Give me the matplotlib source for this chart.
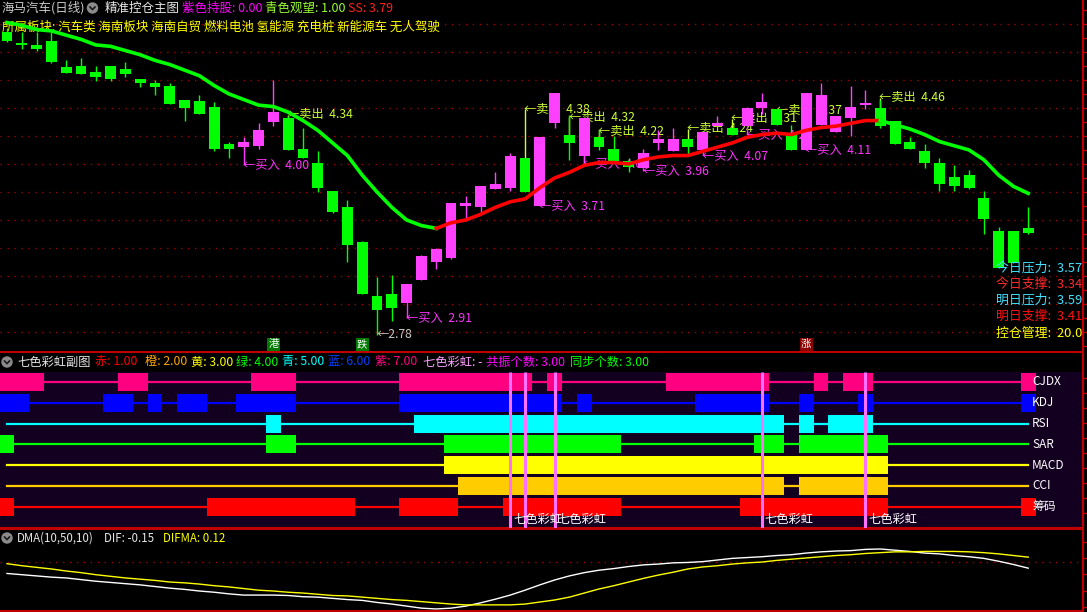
import numpy as np
import matplotlib
matplotlib.use("Agg")
import matplotlib.pyplot as plt
from matplotlib.patches import Circle

plt.rcParams['font.family'] = ['Noto Sans CJK SC', 'DejaVu Sans']

# daily candles, 70 bars
opens = [4.94, 4.86, 4.85, 4.88, 4.69, 4.70, 4.66, 4.70, 4.68, 4.61,
         4.58, 4.56, 4.46, 4.45, 4.41, 4.14, 4.12, 4.13, 4.30, 4.33,
         4.11, 4.01, 3.81, 3.69, 3.44, 3.06, 3.07, 3.01, 3.17, 3.30,
         3.33, 3.70, 3.69, 3.82, 3.83, 4.04, 3.70, 4.29, 4.21, 4.06,
         4.19, 4.11, 4.02, 3.97, 4.15, 4.09, 4.18, 4.10, 4.27, 4.26,
         4.27, 4.40, 4.39, 4.21, 4.10, 4.28, 4.23, 4.33, 4.42, 4.40,
         4.31, 4.16, 4.09, 4.01, 3.91, 3.92, 3.76, 3.52, 3.52, 3.54]
highs = [4.97, 4.94, 4.94, 4.94, 4.74, 4.76, 4.70, 4.70, 4.73, 4.61,
         4.60, 4.58, 4.46, 4.49, 4.44, 4.16, 4.19, 4.29, 4.60, 4.34,
         4.26, 4.09, 3.81, 3.74, 3.45, 3.19, 3.21, 3.14, 3.35, 3.40,
         3.72, 3.77, 3.84, 3.94, 4.08, 4.04, 4.19, 4.51, 4.35, 4.33,
         4.24, 4.20, 4.04, 4.11, 4.24, 4.26, 4.18, 4.23, 4.34, 4.26,
         4.41, 4.51, 4.39, 4.28, 4.51, 4.58, 4.34, 4.56, 4.53, 4.46,
         4.31, 4.19, 4.14, 4.04, 3.99, 3.96, 3.81, 3.55, 3.52, 3.69]
lows = [4.87, 4.82, 4.81, 4.72, 4.65, 4.64, 4.59, 4.59, 4.62, 4.55,
        4.49, 4.43, 4.31, 4.36, 4.09, 4.04, 4.11, 4.11, 4.27, 4.10,
        4.04, 3.80, 3.65, 3.30, 3.07, 2.78, 2.88, 3.01, 3.17, 3.25,
        3.32, 3.60, 3.66, 3.82, 3.81, 3.80, 3.70, 4.26, 4.03, 4.01,
        4.10, 4.02, 3.94, 3.97, 4.10, 4.09, 4.07, 4.10, 4.27, 4.21,
        4.27, 4.36, 4.28, 4.10, 4.10, 4.28, 4.23, 4.20, 4.39, 4.26,
        4.14, 4.11, 3.97, 3.81, 3.81, 3.82, 3.50, 3.26, 3.29, 3.50]
closes = [4.88, 4.85, 4.82, 4.73, 4.65, 4.64, 4.62, 4.61, 4.64, 4.58,
          4.55, 4.43, 4.40, 4.36, 4.11, 4.11, 4.16, 4.24, 4.37, 4.10,
          4.04, 3.83, 3.66, 3.42, 3.07, 2.96, 2.97, 3.14, 3.34, 3.39,
          3.72, 3.72, 3.84, 3.86, 4.06, 3.80, 4.19, 4.51, 4.15, 4.33,
          4.12, 4.02, 3.98, 4.08, 4.18, 4.18, 4.12, 4.23, 4.29, 4.21,
          4.40, 4.44, 4.28, 4.10, 4.51, 4.49, 4.34, 4.41, 4.43, 4.27,
          4.14, 4.11, 4.01, 3.86, 3.84, 3.83, 3.61, 3.26, 3.29, 3.51]

# control line (green falling / red rising)
ctrl_line = [5.01, 4.99, 4.96, 4.95, 4.92, 4.89, 4.85, 4.84, 4.81, 4.78,
             4.74, 4.71, 4.67, 4.63, 4.56, 4.50, 4.46, 4.42, 4.41, 4.37,
             4.31, 4.24, 4.15, 4.06, 3.92, 3.80, 3.69, 3.60, 3.56, 3.54,
             3.58, 3.60, 3.64, 3.69, 3.73, 3.75, 3.83, 3.90, 3.94, 3.99,
             4.01, 4.01, 4.00, 4.03, 4.05, 4.06, 4.06, 4.09, 4.12, 4.15,
             4.19, 4.21, 4.22, 4.21, 4.24, 4.26, 4.27, 4.29, 4.31, 4.31,
             4.28, 4.25, 4.21, 4.16, 4.13, 4.10, 4.03, 3.92, 3.84, 3.79]
red_start, red_end = 29, 59

sell_idx = [19, 35, 38, 40, 46, 49, 52, 59]
sell_price = [4.34, 4.38, 4.32, 4.22, 4.24, 4.31, 4.37, 4.46]
buy_idx = [16, 27, 36, 39, 43, 47, 50, 54]
buy_price = [4.00, 2.91, 3.71, 4.01, 3.96, 4.07, 4.22, 4.11]
low_idx, low_price = 25, 2.78

mark_idx = [18, 24, 54]
mark_text = ['港', '跌', '涨']
mark_bg = ['#007a00', '#007a00', '#8b0000']

info_names = ['今日压力', '今日支撑', '明日压力', '明日支撑', '控仓管理']
info_values = ['3.57', '3.34', '3.59', '3.41', '20.00']
info_colors = ['#40e0ff', '#ff2a2a', '#40e0ff', '#ff1010', '#ffff00']

sectors = '所属板块: 汽车类 海南板块 海南自贸 燃料电池 氢能源 充电桩 新能源车 无人驾驶'

# seven colour rainbow panel: runs of "on" bars (first, last candle)
row_names = ['CJDX', 'KDJ', 'RSI', 'SAR', 'MACD', 'CCI', '筹码']
row_colors = ['#ff0080', '#0000ff', '#00ffff', '#00ff00', '#ffff00', '#ffcc00', '#ff0000']
cjdx_on = [(0, 2), (8, 9), (17, 19), (27, 35), (37, 37), (45, 51), (55, 55), (57, 58), (69, 69)]
kdj_on = [(0, 1), (7, 8), (10, 10), (12, 13), (16, 19), (27, 37), (39, 39), (47, 51),
          (54, 54), (58, 58), (69, 69)]
rsi_on = [(18, 18), (28, 52), (54, 54), (56, 58)]
sar_on = [(0, 0), (18, 19), (30, 41), (51, 52), (54, 59)]
macd_on = [(30, 59)]
cci_on = [(31, 52), (54, 59)]
chip_on = [(0, 0), (14, 23), (27, 30), (34, 41), (50, 59), (69, 69)]
row_on = [cjdx_on, kdj_on, rsi_on, sar_on, macd_on, cci_on, chip_on]
rainbow_idx = [34, 35, 37, 51, 58]
rainbow_labeled = [34, 37, 51, 58]

# DMA(10,50,10)
dif = [-0.28, -0.31, -0.34, -0.37, -0.39, -0.43, -0.47, -0.50, -0.53, -0.56,
       -0.60, -0.64, -0.67, -0.71, -0.74, -0.78, -0.81, -0.81, -0.81, -0.82,
       -0.85, -0.86, -0.89, -0.92, -0.94, -0.99, -1.03, -1.08, -1.13, -1.15,
       -1.13, -1.08, -1.00, -0.91, -0.81, -0.69, -0.56, -0.44, -0.34, -0.26,
       -0.20, -0.16, -0.11, -0.07, -0.05, -0.02, -0.01, 0.01, 0.05, 0.09,
       0.11, 0.13, 0.16, 0.18, 0.22, 0.25, 0.27, 0.28, 0.31, 0.32,
       0.29, 0.26, 0.22, 0.20, 0.16, 0.13, 0.09, 0.02, -0.06, -0.15]
difma = [-0.04, -0.09, -0.13, -0.17, -0.22, -0.26, -0.31, -0.35, -0.39, -0.42,
         -0.45, -0.49, -0.51, -0.54, -0.58, -0.61, -0.65, -0.69, -0.71, -0.74,
         -0.76, -0.79, -0.82, -0.83, -0.86, -0.89, -0.92, -0.94, -0.97, -1.00,
         -1.03, -1.05, -1.05, -1.05, -1.05, -1.03, -0.98, -0.93, -0.86, -0.76,
         -0.66, -0.58, -0.49, -0.40, -0.32, -0.25, -0.17, -0.12, -0.09, -0.05,
         -0.02, 0.00, 0.04, 0.07, 0.10, 0.13, 0.16, 0.18, 0.21, 0.23,
         0.25, 0.25, 0.26, 0.26, 0.26, 0.25, 0.23, 0.20, 0.16, 0.12]

W, H = 1087, 612
n = len(opens)
xs = np.arange(n)
XLIM = (-0.473, 72.70)
RED = '#c00000'

fig = plt.figure(figsize=(W / 100, H / 100), dpi=100, facecolor='black')

# overlay in pixel coordinates for header texts and icons
ov = fig.add_axes([0, 0, 1, 1], zorder=10)
ov.set_xlim(0, W)
ov.set_ylim(H, 0)
ov.axis('off')
ov.patch.set_alpha(0)


def icon(x, y):
    ov.add_patch(Circle((x, y), 5, color='#8c8c8c'))
    ov.plot([x - 2.5, x, x + 2.5], [y - 1, y + 1.6, y - 1], color='#1a1a1a', lw=1.2)


def style_panel(a, top=False):
    a.set_xlim(*XLIM)
    for s in ['left', 'top']:
        a.spines[s].set_visible(False)
    if top:
        a.spines['top'].set_visible(True)
    for s in ['bottom', 'right', 'top']:
        a.spines[s].set_color(RED)
        a.spines[s].set_linewidth(1.5)
    a.set_xticks([])
    a.yaxis.tick_right()
    a.tick_params(axis='y', colors=RED, length=4, width=1, labelright=False)


# ---------------- main chart ----------------
ax = fig.add_axes([0, 1 - 352 / H, 1083 / W, 352 / H])
ax.set_facecolor('black')
style_panel(ax)
ax.set_ylim(2.657, 5.171)
ax.set_yticks(np.arange(2.7, 5.15, 0.1))
for g in np.arange(2.8, 5.01, 0.2):
    ax.axhline(g, color='#a00000', lw=1, dashes=(1, 4), zorder=0)

ax.text(2, 27, sectors, transform=ov.transData, color='#ffff00', fontsize=9,
        va='center', zorder=1)

for i in range(n):
    col = '#ff40ff' if closes[i] >= opens[i] else '#00ff00'
    ax.vlines(i, lows[i], highs[i], color=col, lw=1, zorder=2)
    body = max(abs(closes[i] - opens[i]), 0.015)
    ax.bar(i, body, bottom=min(opens[i], closes[i]), width=0.74, color=col,
           lw=0, zorder=2)

ax.plot(xs[:red_start + 1], ctrl_line[:red_start + 1], color='#00ff00', lw=2.6, zorder=3)
ax.plot(xs[red_start:red_end + 1], ctrl_line[red_start:red_end + 1], color='#ff0000',
        lw=2.6, zorder=3)
ax.plot(xs[red_end:], ctrl_line[red_end:], color='#00ff00', lw=2.6, zorder=3)

for i, p in zip(sell_idx, sell_price):
    if p > max(opens[i], closes[i]):
        ax.vlines(i, max(opens[i], closes[i]), p + 0.012, color='#ccff33', lw=1, zorder=1.5)
    ax.text(i - 0.05, p + 0.012, '←卖出  %.2f' % p, color='#ccff33', fontsize=8.8,
            va='center', ha='left', zorder=1.5)
for i, p in zip(buy_idx, buy_price):
    if p < min(opens[i], closes[i]):
        ax.vlines(i, p - 0.008, min(opens[i], closes[i]), color='#ff33ff', lw=1, zorder=1.5)
    ax.text(i - 0.05, p - 0.008, '←买入  %.2f' % p, color='#ff33ff', fontsize=8.8,
            va='center', ha='left', zorder=1.5)
ax.text(low_idx - 0.05, low_price, '←%.2f' % low_price, color='#c8c8c8', fontsize=8.8,
        va='center', ha='left', zorder=1.5)

for i, t, bg in zip(mark_idx, mark_text, mark_bg):
    ax.text(i, 2.712, t, color='white', fontsize=7.5, ha='center', va='center', zorder=4,
            bbox=dict(boxstyle='square,pad=0.12', fc=bg, ec='none'))

for k, (nm, val, col) in enumerate(zip(info_names, info_values, info_colors)):
    y = 268 + 16 * k + (2 if k == 4 else 0)
    t = ax.text(996, y, nm + ':  ' + val, transform=ov.transData, color=col,
                fontsize=9.3, va='center', ha='left', zorder=5, clip_on=True)
    t.set_clip_box(ax.bbox)

# ---------------- seven colour rainbow panel ----------------
ax2 = fig.add_axes([0, 1 - 528 / H, 1083 / W, 156 / H])
ax2.set_facecolor('#130020')
style_panel(ax2)
ax2.set_ylim(7.02, -0.48)
ax2.set_yticks(np.arange(-0.2, 7.0, 0.72))
for r, (segs, col) in enumerate(zip(row_on, row_colors)):
    ax2.plot([0, n - 1], [r, r], color=col, lw=1.6, zorder=1)
    ax2.broken_barh([(a - 0.5, b - a + 1) for a, b in segs], (r - 0.43, 0.86),
                    facecolors=col, zorder=2)
    ax2.text(69.26, r, row_names[r], color='white', fontsize=8.5, va='center',
             ha='left', zorder=6)
ax2.vlines(rainbow_idx, -0.48, 7.02, color='#ff70ff', lw=2.2, zorder=5)
for i in rainbow_labeled:
    ax2.text(i + 0.2, 6.63, '七色彩虹', color='white', fontsize=8.8, va='center',
             ha='left', zorder=6)

# ---------------- DMA panel ----------------
ax3 = fig.add_axes([0, 1 / H, 1083 / W, 82 / H])
ax3.set_facecolor('black')
style_panel(ax3, top=True)
ax3.set_ylim(-1.2, 0.81)
ax3.set_yticks(np.arange(-1.1, 0.8, 0.4))
ax3.axhline(0, color='#a00000', lw=1, dashes=(1, 4), zorder=0)
ax3.plot(xs, dif, color='white', lw=1)
ax3.plot(xs, difma, color='#ffff00', lw=1)

# ---------------- header texts ----------------
ov.plot([1083, 1083], [352, 372], color=RED, lw=1.5)

head = [('海马汽车(日线)', '#c8c8c8', 2), ('精准控仓主图', '#e6e6e6', 105),
        ('紫色持股: 0.00', '#ff00ff', 182), ('青色观望: 1.00', '#99ff33', 265),
        ('SS: 3.79', '#ff2020', 348)]
for s, c, x in head:
    ov.text(x, 8, s, color=c, fontsize=9, va='center', ha='left')
icon(92.5, 8)

sub_head = [('七色彩虹副图', '#e6e6e6', 17), ('赤: 1.00', '#ff0000', 95),
            ('橙: 2.00', '#ffa500', 145), ('黄: 3.00', '#ffff00', 191),
            ('绿: 4.00', '#00ff00', 236), ('青: 5.00', '#00ffff', 282),
            ('蓝: 6.00', '#0040ff', 328), ('紫: 7.00', '#ff0080', 375),
            ('七色彩虹: -', '#ffa0ff', 423), ('共振个数: 3.00', '#ff00ff', 486),
            ('同步个数: 3.00', '#00ff00', 570)]
for s, c, x in sub_head:
    ov.text(x, 362, s, color=c, fontsize=8.8, va='center', ha='left')
icon(7, 362)

dma_head = [('DMA(10,50,10)', '#e6e6e6', 17), ('DIF: -0.15', '#e6e6e6', 104),
            ('DIFMA: 0.12', '#ffff00', 163)]
for s, c, x in dma_head:
    ov.text(x, 538, s, color=c, fontsize=8.3, va='center', ha='left')
icon(7, 538)

fig.savefig('out.png', dpi=100, facecolor='black')
